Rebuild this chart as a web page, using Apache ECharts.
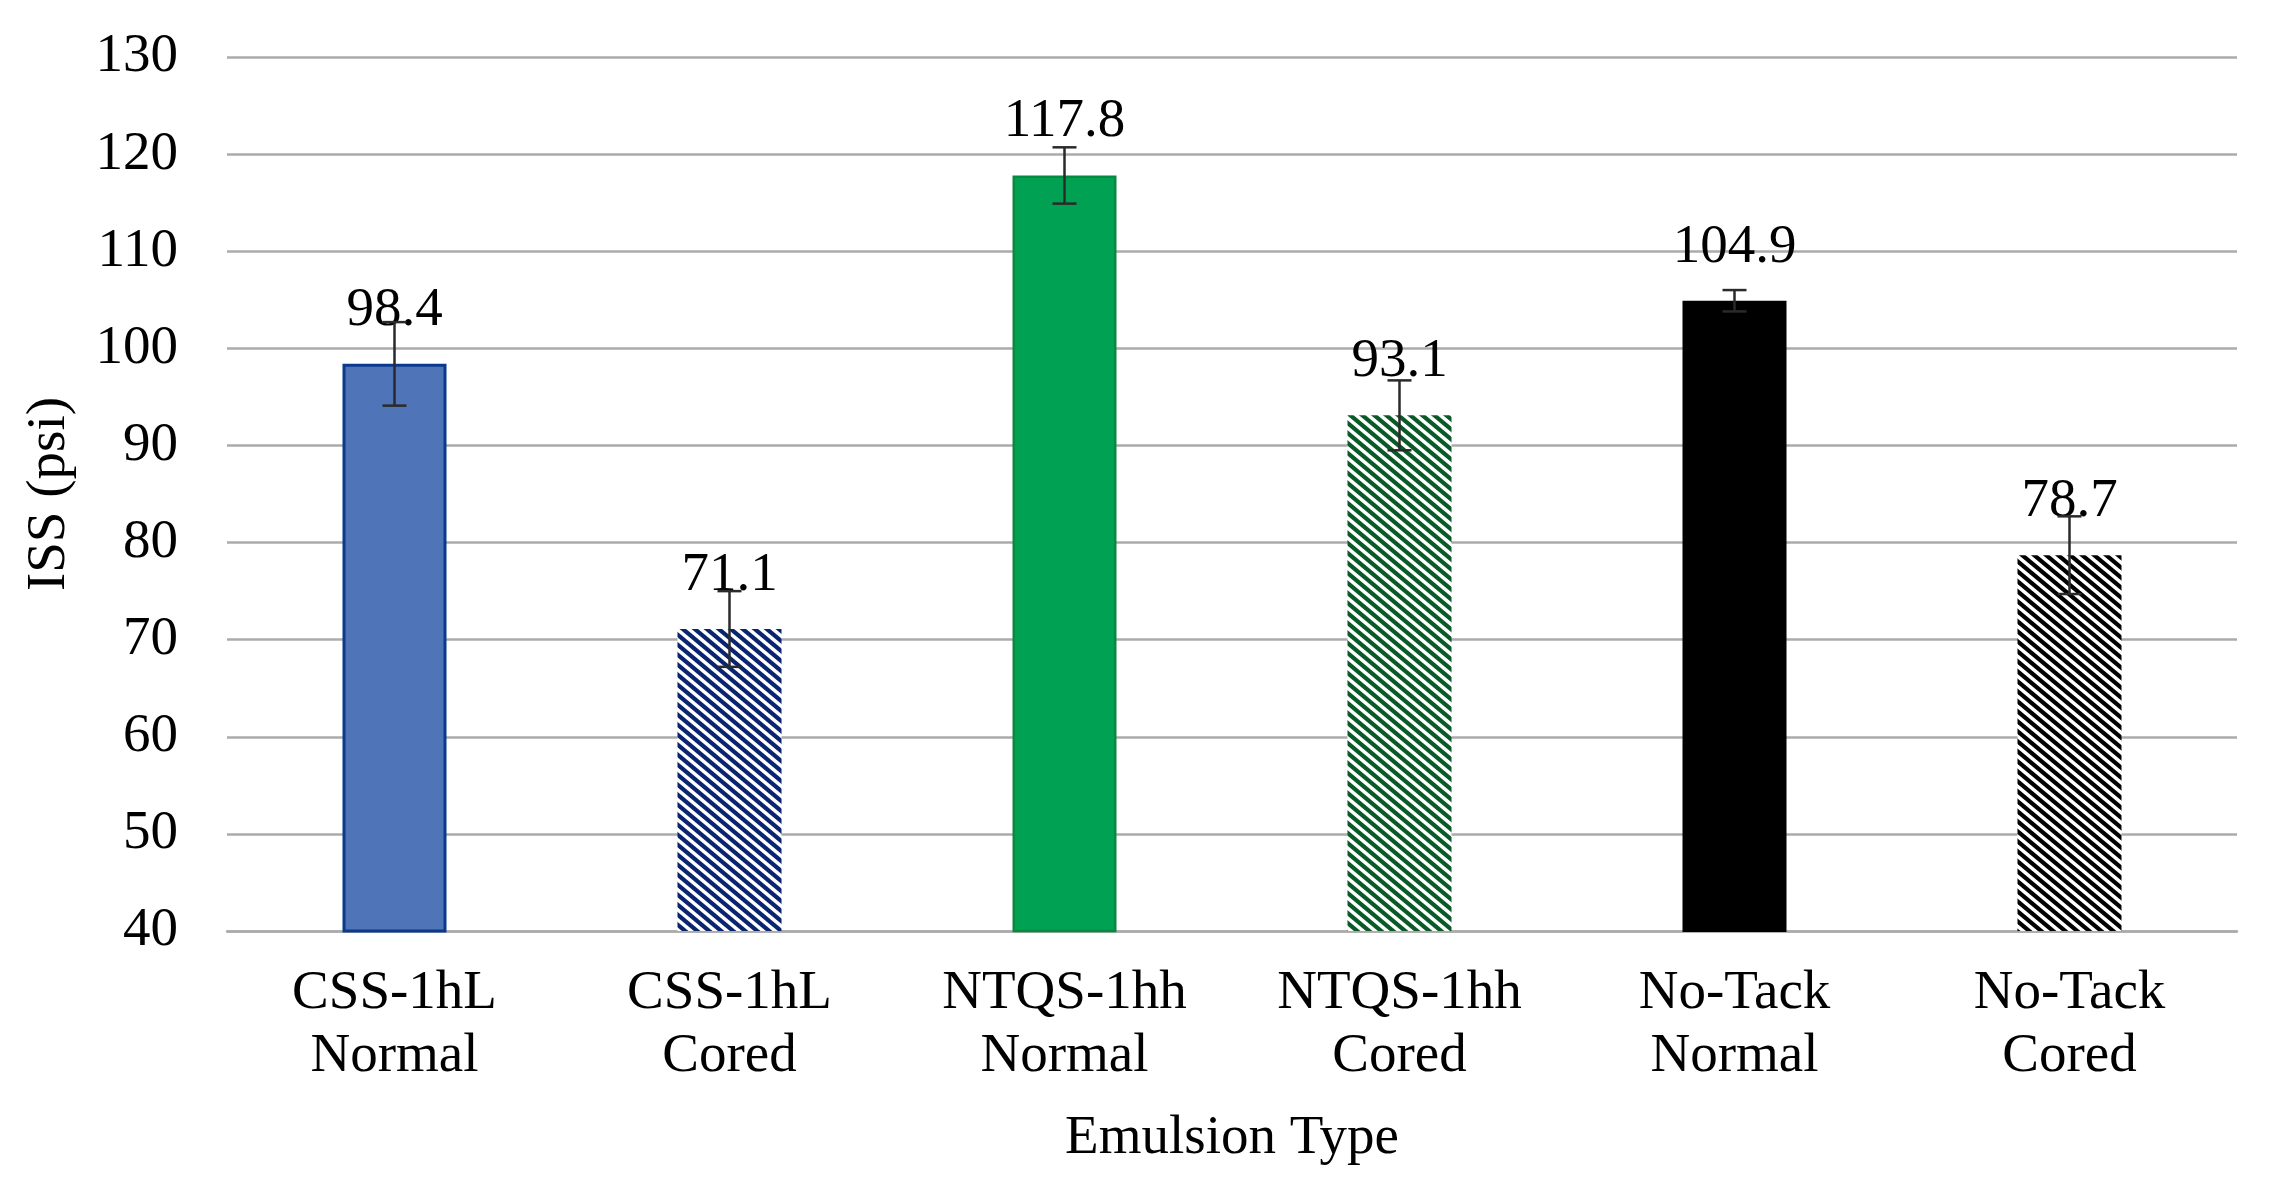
<!DOCTYPE html>
<html>
<head>
<meta charset="utf-8">
<style>
  html, body { margin: 0; padding: 0; background: #ffffff; }
  #chart { width: 2270px; height: 1193px; }
</style>
<script src="https://cdn.jsdelivr.net/npm/echarts@6/dist/echarts.min.js"></script>
</head>
<body>
<div id="chart"></div>
<script>
// ---- data ----
const categories = ['CSS-1hL\nNormal', 'CSS-1hL\nCored', 'NTQS-1hh\nNormal', 'NTQS-1hh\nCored', 'No-Tack\nNormal', 'No-Tack\nCored'];
const values = [98.4, 71.1, 117.8, 93.1, 104.9, 78.7];
const errors = [4.3, 3.9, 2.9, 3.6, 1.1, 4.0];
const yTicks = [40, 50, 60, 70, 80, 90, 100, 110, 120, 130];

// ---- styles ----
const FONT = '"Liberation Serif", "Times New Roman", serif';
function hatch(color) {
  const w = 12, h = 10;
  const c = document.createElement('canvas');
  c.width = w; c.height = h;
  const ctx = c.getContext('2d');
  ctx.fillStyle = '#ffffff';
  ctx.fillRect(0, 0, w, h);
  ctx.strokeStyle = color;
  ctx.lineWidth = 4.2;
  ctx.lineCap = 'butt';
  for (const k of [-w, 0, w]) {
    ctx.beginPath();
    ctx.moveTo(k - w, -h);
    ctx.lineTo(k + 2 * w, 2 * h);
    ctx.stroke();
  }
  return { image: c, repeat: 'repeat' };
}
const barStyles = [
  { color: '#4F75B8', borderColor: '#0B3A8C', borderWidth: 3 },
  { color: hatch('#0A2470'), borderWidth: 0 },
  { color: '#00A152', borderColor: '#078A40', borderWidth: 2.5 },
  { color: hatch('#0A5A28'), borderWidth: 0 },
  { color: '#000000', borderColor: '#000000', borderWidth: 2 },
  { color: hatch('#000000'), borderWidth: 0 }
];

const chart = echarts.init(document.getElementById('chart'), null, { renderer: 'canvas' });

const option = {
  backgroundColor: '#ffffff',
  animation: false,
  grid: { left: 227, right: 33, top: 57, bottom: 262, containLabel: false },
  xAxis: {
    type: 'category',
    data: categories,
    axisLine: { show: true, lineStyle: { color: '#ababab', width: 2.5 } },
    axisTick: { show: false },
    axisLabel: {
      color: '#000', fontFamily: FONT, fontSize: 55, lineHeight: 63, margin: 31, interval: 0
    },
    name: 'Emulsion Type',
    nameLocation: 'middle',
    nameGap: 180,
    nameTextStyle: { color: '#000', fontFamily: FONT, fontSize: 55 }
  },
  yAxis: {
    type: 'value',
    min: yTicks[0],
    max: yTicks[yTicks.length - 1],
    interval: 10,
    axisLine: { show: false },
    axisTick: { show: false },
    splitLine: { show: true, lineStyle: { color: '#ababab', width: 2.5 } },
    axisLabel: { color: '#000', fontFamily: FONT, fontSize: 55, margin: 49 },
    name: 'ISS (psi)',
    nameLocation: 'middle',
    nameGap: 150,
    nameTextStyle: { color: '#000', fontFamily: FONT, fontSize: 55 }
  },
  series: [
    {
      type: 'bar',
      barWidth: 104,
      data: values.map((v, i) => ({ value: v, itemStyle: barStyles[i] })),
      label: {
        show: true,
        position: 'top',
        distance: 26,
        color: '#000',
        fontFamily: FONT,
        fontSize: 55,
        formatter: p => p.value.toFixed(1)
      },
      z: 2
    },
    {
      type: 'custom',
      z: 5,
      silent: true,
      data: values.map((v, i) => [i, v - errors[i], v + errors[i]]),
      renderItem: function (params, api) {
        const x = api.value(0);
        const lo = api.coord([x, api.value(1)]);
        const hi = api.coord([x, api.value(2)]);
        const hw = 12;
        const st = { stroke: '#2a2a2a', lineWidth: 2.5 };
        return {
          type: 'group',
          children: [
            { type: 'line', shape: { x1: lo[0], y1: lo[1], x2: hi[0], y2: hi[1] }, style: st },
            { type: 'line', shape: { x1: lo[0] - hw, y1: lo[1], x2: lo[0] + hw, y2: lo[1] }, style: st },
            { type: 'line', shape: { x1: hi[0] - hw, y1: hi[1], x2: hi[0] + hw, y2: hi[1] }, style: st }
          ]
        };
      }
    }
  ]
};
chart.setOption(option);
</script>
</body>
</html>
